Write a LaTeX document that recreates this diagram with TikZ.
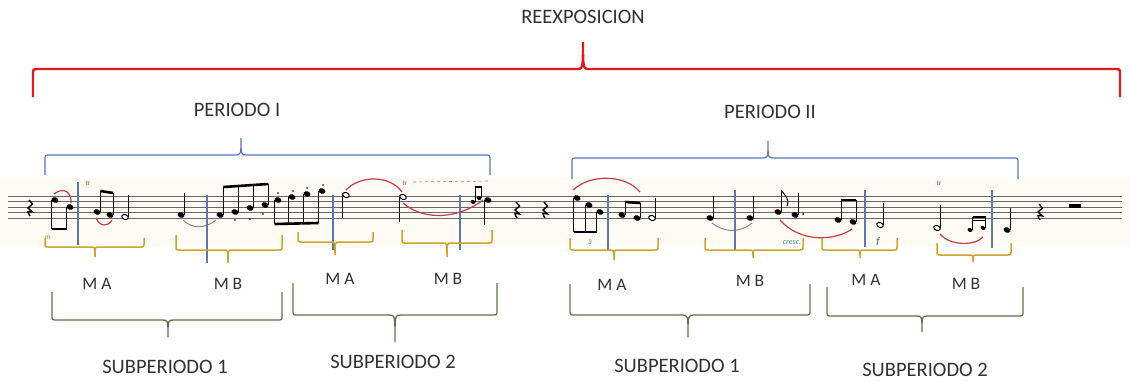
\documentclass[tikz,border=0pt]{standalone}
\usepackage{fontspec}
\setmainfont{Carlito}
\usepackage{tikz}
\usetikzlibrary{calc}
\usepackage{xcolor}

\definecolor{redbr}{RGB}{225,25,30}
\definecolor{bluebr}{RGB}{85,120,190}
\definecolor{yellowbr}{RGB}{205,165,45}
\definecolor{greenbr}{RGB}{95,115,70}
\definecolor{barblue}{RGB}{95,120,170}
\definecolor{txtgray}{RGB}{50,50,50}
\definecolor{slurred}{RGB}{200,60,75}
\definecolor{staffgray}{RGB}{105,105,105}
\definecolor{tealmark}{RGB}{70,140,150}
\definecolor{paper}{RGB}{253,251,243}

\begin{document}
\begin{tikzpicture}[x=1pt,y=-1pt,
	redbrace/.style={redbr, line width=2.4pt},
	perbrace/.style={bluebr, line width=1.2pt},
	motbrace/.style={yellowbr, line width=1.5pt},
	subbrace/.style={greenbr, line width=1.3pt},
	staffline/.style={staffgray, line width=0.8pt},
	barline/.style={barblue, line width=1.1pt},
	stem/.style={black, line width=0.8pt},
	beam/.style={black, line width=2.6pt},
	rest/.style={black, line width=1.4pt},
	slur/.style={slurred, line width=1.2pt},
	tie/.style={gray, line width=0.9pt},
	biglabel/.style={txtgray, font=\fontsize{20.5}{24}\selectfont},
	motlabel/.style={txtgray, font=\fontsize{17.5}{20}\selectfont},
	tiny/.style={font=\fontsize{7}{8}\selectfont, inner sep=0pt}]

	\useasboundingbox (0,0) rectangle (1130,381);
	\fill[paper] (0,178) rectangle (1130,246);

	% staff
	\foreach \s in {0,...,4}
		\draw[staffline] (8,196+5.5*\s) -- (1122,196+5.5*\s);

	% bars
	\draw[barline] (78,182) -- (78,245);
	\draw[barline] (207,195) -- (207,263);
	\draw[barline] (333,195) -- (333,250);
	\draw[barline] (460,195) -- (460,250);
	\draw[barline] (608,195) -- (608,250);
	\draw[barline] (735,190) -- (735,250);
	\draw[barline] (865,190) -- (865,247);
	\draw[barline] (992,190) -- (992,248);

	% note heads
	\foreach \x/\y in {55/200, 70/207, 97/212, 110/215, 181/215, 220/215, 235/212, 250/208, 265/205,
		278/200, 292/197, 307/194, 322/191, 488/200, 577/198, 589/205, 600/212, 622/215, 637/218,
		710/218, 750/218, 778/212, 795/215, 838/220, 853/222, 1007/230}
		\fill[rotate around={-20:(\x,\y)}] (\x,\y) ellipse (3.6 and 2.7);
	\foreach \x/\y in {473/202, 479/198, 970/230, 983/228}
		\fill[rotate around={-20:(\x,\y)}] (\x,\y) ellipse (2.5 and 1.9);
	\foreach \x/\y in {125/217, 346/195, 403/197, 652/218, 880/225, 937/228}
		\draw[line width=1pt, fill=white, rotate around={-20:(\x,\y)}] (\x,\y) ellipse (3.4 and 2.4);

	% stems
	\foreach \x/\a/\b in {51.7/200/229, 66.7/207/229, 100.3/212/191, 113.3/215/193, 128.3/217/195,
		184.3/215/193, 223.3/215/187, 238.3/212/186, 253.3/208/185, 268.3/205/184,
		274.7/200/224, 288.7/197/224, 303.7/194/223, 318.7/191/223, 342.7/195/218, 399.7/197/222,
		475/202/187, 481.5/198/187, 484.7/200/225, 573.7/198/232, 585.7/205/232, 596.7/212/232,
		625.3/215/202, 640.3/218/203, 655.3/218/198, 713.3/218/196, 753.3/218/196, 781.3/212/190,
		798.3/215/193, 841.3/220/200, 856.3/222/200, 883.3/225/203, 940.3/228/205,
		972.5/230/217, 985.5/228/217, 1010.3/230/208}
		\draw[stem] (\x,\a) -- (\x,\b);

	% beams
	\draw[beam] (51.7,229) -- (66.7,229);
	\draw[beam] (100.3,191) -- (113.3,193);
	\draw[beam] (223.3,187) -- (268.3,184);
	\draw[beam] (274.7,224) -- (318.7,223);
	\draw[beam, line width=1.6pt] (475,187) -- (481.5,187);
	\draw[beam] (573.7,232) -- (596.7,232);
	\draw[beam] (625.3,202) -- (640.3,203);
	\draw[beam] (841.3,200) -- (856.3,200);
	\draw[beam, line width=1.6pt] (972.5,217) -- (985.5,217);
	\draw[beam, line width=1.6pt] (972.5,220.5) -- (985.5,220.5);
	\draw[stem, line width=1pt] (781.3,190) .. controls (785,196) and (790,199) .. (787,206);
	\fill (803,214) circle (1);

	% staccato
	\foreach \x/\y in {235/220, 250/219, 263/214, 278/193, 293/191, 307/188, 323/185}
		\fill (\x,\y) circle (0.9);

	% rests
	\foreach \x/\y in {30/208, 517/210, 545/210, 1040/212}
		\draw[rest] (\x-1,\y-8) -- (\x+2.5,\y-4) -- (\x-2,\y) -- (\x+2.5,\y+4) .. controls (\x-3,\y+3) .. (\x,\y+8);
	\fill (1069,204) rectangle (1081,207.5);

	% slurs and ties
	\draw[slur] (54,194) .. controls (64,186) and (72,193) .. (71,203);
	\draw[slur] (96,218) .. controls (100,227) and (108,227) .. (112,220);
	\draw[tie] (183,220) .. controls (192,229) and (205,229) .. (216,220);
	\draw[slur] (346,190) .. controls (360,175) and (390,175) .. (402,192);
	\draw[slur] (403,203) .. controls (425,222) and (460,218) .. (483,200);
	\draw[gray, dashed, line width=0.6pt] (413,182) -- (490,181);
	\draw[slur] (573,190) .. controls (590,174) and (625,174) .. (640,192);
	\draw[tie] (712,223) .. controls (725,233) and (740,233) .. (752,223);
	\draw[slur] (780,220) .. controls (800,243) and (835,241) .. (852,229);
	\draw[slur] (940,234) .. controls (950,246) and (975,246) .. (983,237);

	% marks
	\node[tiny, olive!70!black] (tr1) at (88,183) {tr};
	\node[tiny, olive] (mm) at (48,238) {m};
	\node[tiny, slurred] (tr2) at (405,183) {tr};
	\node[tiny, font=\fontsize{7}{8}\selectfont\itshape, tealmark] (trip) at (590,242) {3};
	\node[tiny, font=\fontsize{8}{9}\selectfont\itshape, tealmark] (cresc) at (792,243) {cresc.};
	\node[tiny, font=\fontsize{10}{11}\selectfont\itshape\bfseries, tealmark] (forte) at (878,242) {f};
	\node[tiny, slurred] (tr3) at (939,183) {tr};

	% REEXPOSICION brace
	\draw[redbrace] (33,97) -- (33,74) .. controls (33,69) .. (39,69) -- (576,69)
		.. controls (583,69) .. (583,42) .. controls (583,69) .. (590,69)
		-- (1114,69) .. controls (1120,69) .. (1120,74) -- (1120,97);
	\node[biglabel] (reex) at (583,17) {REEXPOSICION};

	% PERIODO braces
	\foreach \l/\m/\r/\y/\t/\e in {45/241/490/155/138/175, 572/768/1018/158/141/179}
		\draw[perbrace] (\l,\e) -- (\l,\y+5) .. controls (\l,\y) .. (\l+5,\y) -- (\m-6,\y)
			.. controls (\m,\y) .. (\m,\t) .. controls (\m,\y) .. (\m+6,\y)
			-- (\r-5,\y) .. controls (\r,\y) .. (\r,\y+5) -- (\r,\e);
	\node[biglabel] (per1) at (237,110) {PERIODO I};
	\node[biglabel] (per2) at (770,112) {PERIODO II};

	% motivo braces
	\foreach \l/\m/\r/\y/\t/\e in {45/95/144/247/257/238, 176/228/282/250/263/235, 298/335/373/242/255/232,
		402/447/492/243/257/230, 570/614/658/250/260/238, 705/753/803/250/258/238,
		822/860/897/250/258/238, 937/973/1011/255/262/243}
		\draw[motbrace] (\l,\e) -- (\l,\y-3) .. controls (\l,\y) .. (\l+3,\y) -- (\m-4,\y)
			.. controls (\m,\y) .. (\m,\t) .. controls (\m,\y) .. (\m+4,\y)
			-- (\r-3,\y) .. controls (\r,\y) .. (\r,\y-3) -- (\r,\e);
	\node[motlabel] (ma1) at (97,284) {M A};
	\node[motlabel] (mb1) at (228,284) {M B};
	\node[motlabel] (ma2) at (340,279) {M A};
	\node[motlabel] (mb2) at (448,279) {M B};
	\node[motlabel] (ma3) at (612,285) {M A};
	\node[motlabel] (mb3) at (750,281) {M B};
	\node[motlabel] (ma4) at (866,280) {M A};
	\node[motlabel] (mb4) at (966,284) {M B};

	% SUBPERIODO braces
	\foreach \l/\m/\r/\y/\t/\e in {52/168/282/320/337/292, 293/395/497/315/342/283,
		570/688/810/315/337/284, 827/922/1023/316/332/287}
		\draw[subbrace] (\l,\e) -- (\l,\y-5) .. controls (\l,\y) .. (\l+5,\y) -- (\m-6,\y)
			.. controls (\m,\y) .. (\m,\t) .. controls (\m,\y) .. (\m+6,\y)
			-- (\r-5,\y) .. controls (\r,\y) .. (\r,\y-5) -- (\r,\e);
	\node[biglabel] (sub1) at (165,367) {SUBPERIODO 1};
	\node[biglabel] (sub2) at (393,362) {SUBPERIODO 2};
	\node[biglabel] (sub3) at (677,366) {SUBPERIODO 1};
	\node[biglabel] (sub4) at (925,370) {SUBPERIODO 2};

\end{tikzpicture}
\end{document}
